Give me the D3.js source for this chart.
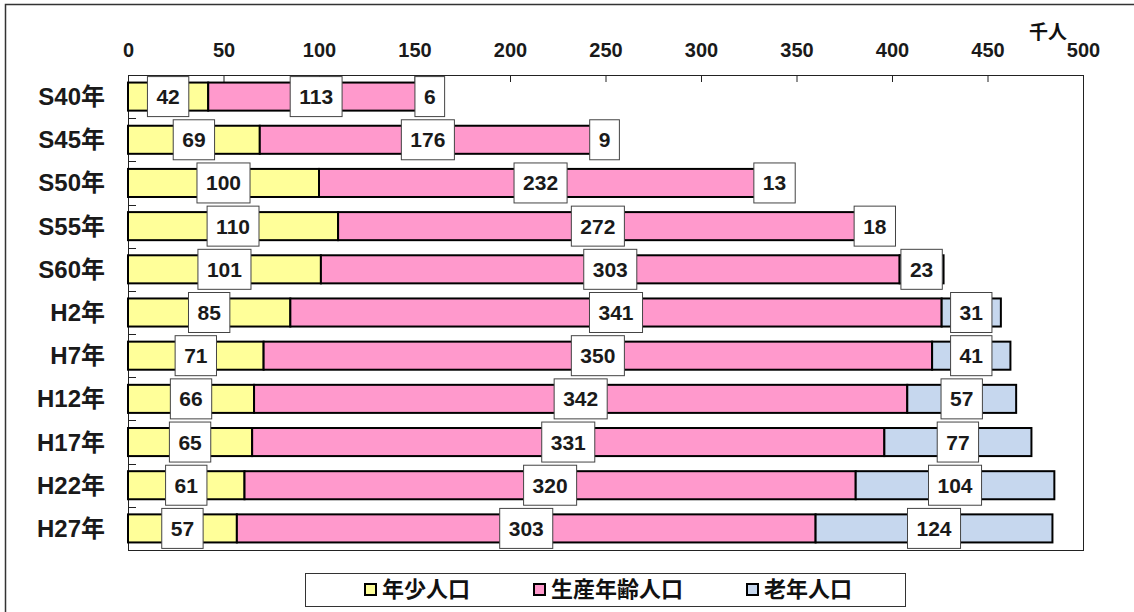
<!DOCTYPE html>
<html>
<head>
<meta charset="utf-8">
<script src="https://cdn.jsdelivr.net/npm/d3@7"></script>
<style>
  body { margin: 0; background: #fff; }
  svg { display: block; font-family: "Liberation Sans", "Noto Sans CJK JP", sans-serif; }
</style>
</head>
<body>
<svg id="chart" width="1134" height="612"></svg>
<script>
// data
const years = ['S40年', 'S45年', 'S50年', 'S55年', 'S60年', 'H2年', 'H7年', 'H12年', 'H17年', 'H22年', 'H27年'];
const young = [42, 69, 100, 110, 101, 85, 71, 66, 65, 61, 57];
const working = [113, 176, 232, 272, 303, 341, 350, 342, 331, 320, 303];
const elderly = [6, 9, 13, 18, 23, 31, 41, 57, 77, 104, 124];
const seriesNames = ['年少人口', '生産年齢人口', '老年人口'];
const seriesColors = ['#ffff99', '#ff99cc', '#c6d7ee'];
const xTicks = [0, 50, 100, 150, 200, 250, 300, 350, 400, 450, 500];

const svg = d3.select('#chart');

// outer frame
svg.append('rect').attr('x', 5.5).attr('y', 4.5).attr('width', 1140).attr('height', 620)
  .attr('fill', 'none').attr('stroke', '#333').attr('stroke-width', 1.5);

const plot = { left: 128, right: 1083, top: 75, bottom: 550 };

const x = d3.scaleLinear().domain([0, 500]).range([plot.left, plot.right]);
const y = d3.scaleBand().domain(years).range([plot.top, plot.bottom]).paddingInner(0.35).paddingOuter(0.175);
const yb = d3.scaleBand().domain(years).range([plot.top, plot.bottom]);

// plot area border
svg.append('rect').attr('x', plot.left + 0.5).attr('y', plot.top + 0.5)
  .attr('width', plot.right - plot.left).attr('height', plot.bottom - plot.top)
  .attr('fill', 'none').attr('stroke', '#222').attr('stroke-width', 1);

// top axis
const xAxis = svg.append('g').attr('transform', `translate(0,${plot.top})`)
  .call(d3.axisTop(x).tickValues(xTicks).tickSize(-7).tickPadding(18));
xAxis.select('.domain').remove();
xAxis.selectAll('line').attr('stroke', '#222');
xAxis.selectAll('text').attr('font-size', 20).attr('font-weight', 'bold').attr('fill', '#1a1a1a');

// category ticks at band boundaries
svg.append('g').selectAll('line').data(years.slice(1)).join('line')
  .attr('x1', plot.left).attr('x2', plot.left + 8)
  .attr('y1', d => Math.round(yb(d)) + 0.5).attr('y2', d => Math.round(yb(d)) + 0.5)
  .attr('stroke', '#222');

// category labels
svg.append('g').selectAll('text').data(years).join('text')
  .attr('x', 105).attr('y', d => yb(d) + yb.bandwidth() / 2)
  .attr('text-anchor', 'end').attr('dominant-baseline', 'central')
  .attr('font-size', 24).attr('font-weight', 'bold').attr('fill', '#1a1a1a')
  .text(d => d);

// stacked rows
const rows = years.map((yr, i) => ({ yr, vals: [young[i], working[i], elderly[i]] }));
const segs = [];
rows.forEach(r => {
  let acc = 0;
  r.vals.forEach((v, k) => {
    segs.push({ yr: r.yr, k, v, x0: acc, x1: acc + v });
    acc += v;
  });
});

svg.append('g').selectAll('rect').data(segs).join('rect')
  .attr('x', d => x(d.x0)).attr('width', d => x(d.x1) - x(d.x0))
  .attr('y', d => y(d.yr)).attr('height', y.bandwidth())
  .attr('fill', d => seriesColors[d.k]).attr('stroke', '#000').attr('stroke-width', 2);

// value labels with boxes
const lab = svg.append('g').selectAll('g').data(segs).join('g')
  .attr('transform', d => `translate(${x((d.x0 + d.x1) / 2)},${y(d.yr) + y.bandwidth() / 2})`);
lab.append('rect');
lab.append('text').attr('text-anchor', 'middle').attr('dominant-baseline', 'central')
  .attr('font-size', 21).attr('font-weight', 'bold').attr('fill', '#1a1a1a')
  .text(d => d.v);
lab.each(function () {
  const g = d3.select(this);
  const w = g.select('text').node().getComputedTextLength() + 18;
  g.select('rect').attr('x', -w / 2).attr('y', -20).attr('width', w).attr('height', 40)
    .attr('fill', '#fff').attr('stroke', '#444').attr('stroke-width', 1);
});

// unit label
svg.append('text').attr('x', 1048).attr('y', 39).attr('text-anchor', 'middle')
  .attr('font-size', 19).attr('font-weight', 'bold').attr('fill', '#111').text('千人');

// legend
svg.append('rect').attr('x', 305.5).attr('y', 573.5).attr('width', 600).attr('height', 33)
  .attr('fill', '#fff').attr('stroke', '#333').attr('stroke-width', 1);
const legX = [365, 534, 747];
const leg = svg.append('g').selectAll('g').data(seriesNames).join('g')
  .attr('transform', (d, i) => `translate(${legX[i]},589)`);
leg.append('rect').attr('x', 0).attr('y', -5).attr('width', 11).attr('height', 11)
  .attr('fill', (d, i) => seriesColors[i]).attr('stroke', '#000').attr('stroke-width', 2);
leg.append('text').attr('x', 17).attr('dominant-baseline', 'central')
  .attr('font-size', 22).attr('font-weight', 'bold').attr('fill', '#111').text(d => d);
</script>
</body>
</html>
